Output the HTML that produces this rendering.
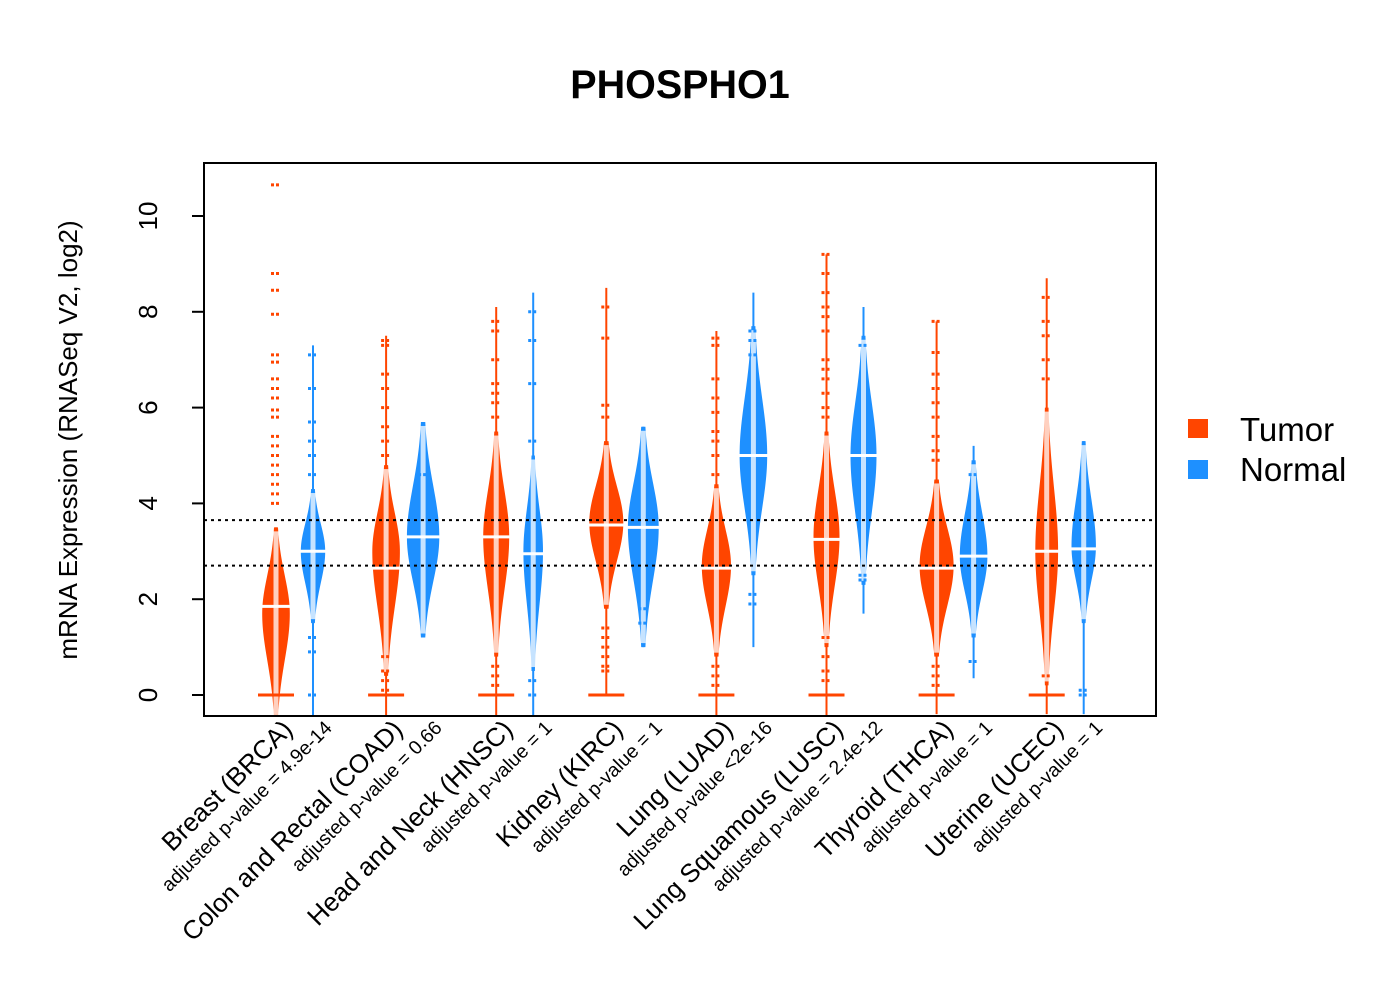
<!DOCTYPE html>
<html><head><meta charset="utf-8"><style>
html,body{margin:0;padding:0;background:#fff;}
svg{display:block;font-family:"Liberation Sans",sans-serif;}
</style></head><body>
<svg id="chart" width="1400" height="1000" viewBox="0 0 1400 1000">
<text x="680" y="98" text-anchor="middle" font-size="39.5" font-weight="bold">PHOSPHO1</text>
<g id="plot"></g>
<rect x="204" y="163" width="952" height="553" fill="none" stroke="#000" stroke-width="2"/>
<text transform="translate(77,440) rotate(-90)" text-anchor="middle" font-size="26">mRNA Expression (RNASeq V2, log2)</text>
<g id="yaxis"></g>
<g id="xlabels"></g>
<g>
<rect x="1188" y="419" width="20" height="19" fill="#FF4500"/>
<text x="1240" y="441" font-size="33">Tumor</text>
<rect x="1188" y="460" width="20" height="19" fill="#1E90FF"/>
<text x="1240" y="481" font-size="33">Normal</text>
</g>
</svg>
<script>
const categories=["Breast (BRCA)","Colon and Rectal (COAD)","Head and Neck (HNSC)","Kidney (KIRC)","Lung (LUAD)","Lung Squamous (LUSC)","Thyroid (THCA)","Uterine (UCEC)"];
const pvalues=["adjusted p-value = 4.9e-14","adjusted p-value = 0.66","adjusted p-value = 1","adjusted p-value = 1","adjusted p-value <2e-16","adjusted p-value = 2.4e-12","adjusted p-value = 1","adjusted p-value = 1"];
const yTicks=[0,2,4,6,8,10];
const refLines=[2.7,3.65];
const tumorLineLo=[-0.5,-0.5,-0.5,0,-0.5,-0.5,-0.4,-0.4];
const tumorLineHi=[3.5,7.5,8.1,8.5,7.6,9.2,7.8,8.7];
const tumorBodyLo=[-0.5,0.4,0.8,1.8,0.8,1.0,0.8,0.2];
const tumorBodyHi=[3.5,4.8,5.5,5.3,4.4,5.5,4.5,6.0];
const tumorMode=[1.7,3.0,3.3,3.6,2.7,3.3,2.7,3.0];
const tumorMedian=[1.85,2.65,3.3,3.55,2.65,3.25,2.65,3.0];
const tumorWidth=[0.8,0.8,0.75,1.0,0.85,0.75,1.0,0.65];
const tumorOutliers=[[10.65,8.8,8.45,7.95,7.1,6.95,6.6,6.4,6.2,5.95,5.8,5.4,5.2,5.0,4.8,4.6,4.4,4.2,4.0],[7.4,7.3,6.7,6.4,6.0,5.6,5.3,5.0,0.8,0.5,0.3,0.1],[7.8,7.6,7.0,6.5,6.3,6.1,5.8,0.6,0.4,0.2],[8.1,7.45,6.05,5.8,1.4,1.2,1.0,0.8,0.6,0.5],[7.45,7.3,6.6,6.2,5.9,5.5,5.3,5.0,4.6,0.6,0.4,0.2],[9.2,8.8,8.4,8.1,7.9,7.6,7.0,6.8,6.6,6.3,6.0,5.8,1.2,0.8,0.5,0.3],[7.8,7.15,6.7,6.4,6.1,5.8,5.4,5.1,4.9,0.6,0.4,0.2],[8.3,7.8,7.5,7.0,6.6,0.4]];
const normalLineLo=[-0.5,1.2,-0.5,1.0,1.0,1.7,0.35,-0.4];
const normalLineHi=[7.3,5.7,8.4,5.6,8.4,8.1,5.2,5.3];
const normalBodyLo=[1.5,1.2,0.5,1.0,2.5,2.3,1.2,1.5];
const normalBodyHi=[4.3,5.7,5.0,5.6,7.7,7.5,4.9,5.3];
const normalMode=[3.0,3.3,3.0,3.5,5.0,5.0,2.9,3.1];
const normalMedian=[3.0,3.3,2.95,3.5,5.0,5.0,2.9,3.05];
const normalWidth=[0.7,0.95,0.55,0.9,0.8,0.75,0.8,0.7];
const normalOutliers=[[7.1,6.4,5.7,5.3,5.0,4.6,1.2,0.9,0.0],[4.6],[8.0,7.4,6.5,5.3,0.3,0.0],[1.8,1.5],[7.6,7.4,7.1,2.1,1.9],[7.3,2.5,2.4],[4.6,0.7],[0.1,0.0]];

const NS="http://www.w3.org/2000/svg";
const Y0=695, PXU=47.9;
function yScale(v){return Y0-v*PXU;}
function xTumor(i){return 276+i*110.1;}
function xNormal(i){return 313+i*110.1;}
function mk(tag,attrs,parent){const e=document.createElementNS(NS,tag);for(const k in attrs)e.setAttribute(k,attrs[k]);parent.appendChild(e);return e;}
const plot=document.getElementById('plot');
const clip=mk('clipPath',{id:'pc'},mk('defs',{},document.getElementById('chart')));
mk('rect',{x:204,y:163,width:952,height:553},clip);
plot.setAttribute('clip-path','url(#pc)');

function bean(cx,lineLo,lineHi,lo,hi,mode,med,wScale,outs,color,isTumor,name){
  const g=mk('g',{},plot);
  
  
  const ln=mk('line',{x1:cx,x2:cx,y1:yScale(lineLo),y2:yScale(lineHi),stroke:color,'stroke-width':2},g);
  
  
  const W=16*wScale;
  const N=60;
  const sUp=(hi-mode)/1.6,sDn=(mode-lo)/1.6;
  const right=[];
  for(let k=0;k<=N;k++){const v=lo+(hi-lo)*k/N;const s=v>mode?sUp:sDn;const w=W*Math.exp(-Math.pow((v-mode)/s,2))+1;right.push([cx+w,yScale(v)]);}
  const left=right.slice().reverse().map(p=>[2*cx-p[0],p[1]]);
  const poly=mk('polygon',{points:right.concat(left).map(p=>p.join(',')).join(' '),fill:color},g);
  
  
  const strip=mk('rect',{x:cx-2.5,y:yScale(hi)+4,width:5,height:Math.max(0,yScale(lo)-yScale(hi)-8),fill:'#fff',opacity:0.75},g);
  
  
  for(const o of outs){
    const d=mk('line',{x1:cx-5,x2:cx+5,y1:yScale(o),y2:yScale(o),stroke:color,'stroke-width':3,'stroke-dasharray':'3 2'},g);
    
    
  }
  if(isTumor){
    const z=mk('line',{x1:cx-18,x2:cx+18,y1:yScale(0),y2:yScale(0),stroke:color,'stroke-width':3},g);
    
    
  }
  const m=mk('line',{x1:cx-W-2,x2:cx+W+2,y1:yScale(med),y2:yScale(med),stroke:'#fff','stroke-width':3},g);
  
  
}
for(let i=0;i<categories.length;i++){
  bean(xTumor(i),tumorLineLo[i],tumorLineHi[i],tumorBodyLo[i],tumorBodyHi[i],tumorMode[i],tumorMedian[i],tumorWidth[i],tumorOutliers[i],'#FF4500',true,'tumor-bean-'+i);
  bean(xNormal(i),normalLineLo[i],normalLineHi[i],normalBodyLo[i],normalBodyHi[i],normalMode[i],normalMedian[i],normalWidth[i],normalOutliers[i],'#1E90FF',false,'normal-bean-'+i);
}
for(const r of refLines){
  const l=mk('line',{x1:204,x2:1156,y1:yScale(r),y2:yScale(r),stroke:'#000','stroke-width':2,'stroke-dasharray':'3 4'},plot);
  
  
}
const ya=document.getElementById('yaxis');
for(const t of yTicks){
  const tk=mk('line',{x1:192,x2:204,y1:yScale(t),y2:yScale(t),stroke:'#000','stroke-width':2},ya);
  
  
  const tx=mk('text',{transform:`translate(157,${yScale(t)}) rotate(-90)`,'text-anchor':'middle','font-size':26},ya);
  tx.textContent=t;
  
  
}
const xl=document.getElementById('xlabels');
for(let i=0;i<categories.length;i++){
  const cx=xTumor(i);
  const a=mk('text',{transform:`translate(${cx+18},${731}) rotate(-45)`,'text-anchor':'end','font-size':26},xl);
  a.textContent=categories[i];
  
  
  const b=mk('text',{transform:`translate(${cx+57},${729}) rotate(-45)`,'text-anchor':'end','font-size':19.5},xl);
  b.textContent=pvalues[i];
  
  
}
</script>
</body></html>
